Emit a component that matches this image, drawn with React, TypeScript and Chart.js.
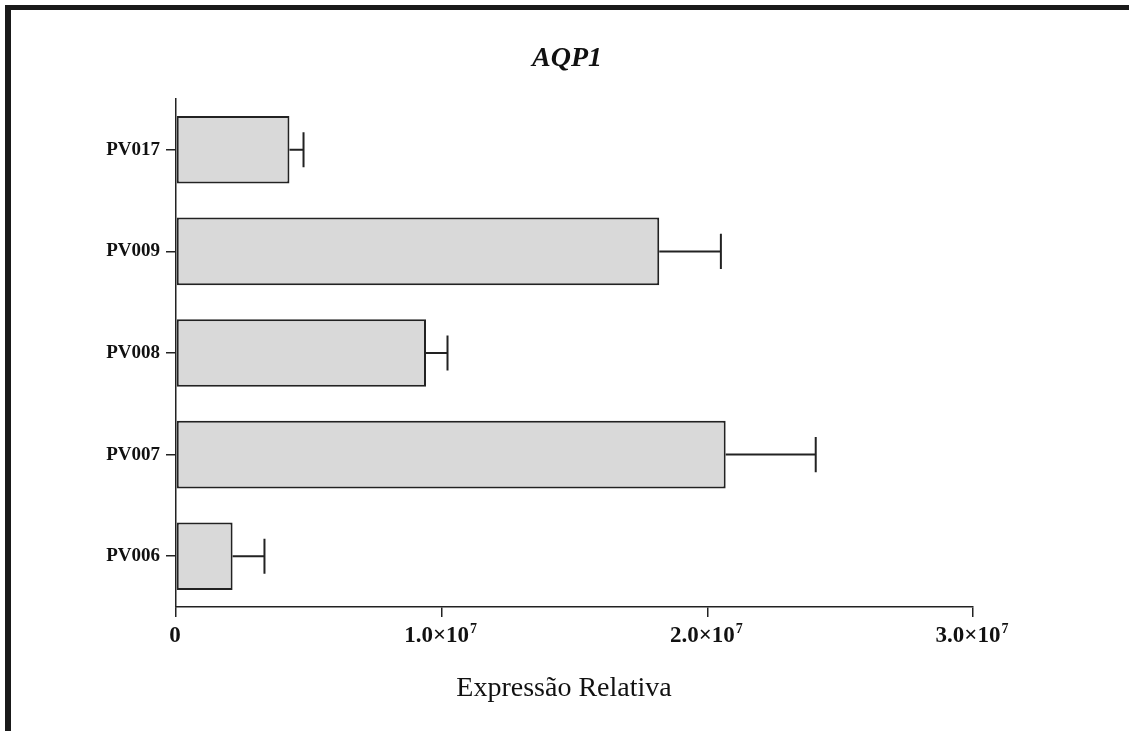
import React, { useEffect, useRef } from 'react';
import { Chart, registerables } from 'chart.js';

Chart.register(...registerables);

const categories = ['PV017', 'PV009', 'PV008', 'PV007', 'PV006'];
const means = [4.27e6, 1.819e7, 9.41e6, 2.069e7, 2.13e6];
const errors = [0.53e6, 2.32e6, 0.81e6, 3.39e6, 1.2e6];
const xTickValues = [0, 1e7, 2e7, 3e7];
const xTickBase = ['0', '1.0×10', '2.0×10', '3.0×10'];
const xTickExponent = ['', '7', '7', '7'];
const chartTitle = 'AQP1';
const xAxisTitle = 'Expressão Relativa';

const SERIF = '"Liberation Serif", "Times New Roman", serif';
const INK = '#222222';

const errorBarsPlugin = {
  id: 'errorBars',
  afterDatasetsDraw(chart: any) {
    const meta = chart.getDatasetMeta(0);
    const xs = chart.scales.x;
    const ctx = chart.ctx;
    ctx.save();
    ctx.strokeStyle = INK;
    ctx.lineWidth = 2;
    meta.data.forEach((bar: any, i: number) => {
      const y = bar.y;
      const x0 = xs.getPixelForValue(means[i]);
      const x1 = xs.getPixelForValue(means[i] + errors[i]);
      const half = bar.height * 0.26;
      ctx.beginPath();
      ctx.moveTo(x0, y);
      ctx.lineTo(x1, y);
      ctx.moveTo(x1, y - half);
      ctx.lineTo(x1, y + half);
      ctx.stroke();
    });
    ctx.restore();
  },
};

const textPlugin = {
  id: 'texts',
  afterDraw(chart: any) {
    const ctx = chart.ctx;
    const xs = chart.scales.x;
    ctx.save();
    ctx.fillStyle = '#111111';
    ctx.textBaseline = 'alphabetic';

    // x tick labels with superscript exponent
    const baseFont = `bold 23px ${SERIF}`;
    const expFont = `bold 14px ${SERIF}`;
    const baseline = xs.bottom - xs.height + 35; // axis top + offset
    xTickValues.forEach((v, i) => {
      const px = xs.getPixelForValue(v);
      ctx.font = baseFont;
      const wb = ctx.measureText(xTickBase[i]).width;
      ctx.font = expFont;
      const we = xTickExponent[i] ? ctx.measureText(xTickExponent[i]).width + 1 : 0;
      const start = px - (wb + we) / 2 - (xTickExponent[i] ? 1 : 1);
      ctx.textAlign = 'left';
      ctx.font = baseFont;
      ctx.fillText(xTickBase[i], start, baseline);
      if (xTickExponent[i]) {
        ctx.font = expFont;
        ctx.fillText(xTickExponent[i], start + wb + 1, baseline - 9.5);
      }
    });

    ctx.textAlign = 'center';
    ctx.font = `italic bold 28px ${SERIF}`;
    ctx.fillText(chartTitle, 567, 66);
    ctx.font = `28px ${SERIF}`;
    ctx.fillText(xAxisTitle, 564, 696);
    ctx.restore();
  },
};

const framePlugin = {
  id: 'frame',
  beforeDraw(chart: any) {
    const ctx = chart.ctx;
    ctx.save();
    ctx.fillStyle = '#ffffff';
    ctx.fillRect(0, 0, chart.width, chart.height);
    ctx.fillStyle = '#1a1a1a';
    ctx.fillRect(5, 5, chart.width - 5, 5);
    ctx.fillRect(5, 5, 6, chart.height - 5);
    ctx.restore();
  },
};

export default function App() {
  const ref = useRef<HTMLCanvasElement | null>(null);

  useEffect(() => {
    if (!ref.current) return;
    const chart = new Chart(ref.current, {
      type: 'bar',
      data: {
        labels: categories,
        datasets: [
          {
            data: means,
            backgroundColor: '#d9d9d9',
            borderColor: INK,
            borderWidth: 2,
            borderSkipped: false,
            categoryPercentage: 1,
            barPercentage: 0.665,
          },
        ],
      },
      options: {
        indexAxis: 'y',
        responsive: false,
        animation: false,
        devicePixelRatio: 1,
        layout: { padding: { left: 0, right: 156, top: 99, bottom: 0 } },
        plugins: {
          legend: { display: false },
          title: { display: false },
          tooltip: { enabled: false },
        },
        scales: {
          x: {
            type: 'linear',
            min: 0,
            max: 3e7,
            afterBuildTicks(scale: any) {
              scale.ticks = xTickValues.map((v) => ({ value: v }));
            },
            afterFit(scale: any) {
              scale.height = 124;
            },
            grid: {
              drawOnChartArea: false,
              drawTicks: true,
              tickLength: 10,
              color: INK,
              lineWidth: 1.5,
            },
            border: { display: true, color: INK, width: 1.5 },
            ticks: {
              display: false,
            },
          },
          y: {
            type: 'category',
            afterFit(scale: any) {
              scale.width = 176;
            },
            grid: {
              offset: false,
              drawOnChartArea: false,
              drawTicks: true,
              tickLength: 10,
              color: INK,
              lineWidth: 1.5,
            },
            border: { display: true, color: INK, width: 1.5 },
            ticks: {
              padding: 6,
              color: '#111111',
              font: { family: SERIF, size: 19, weight: 'bold' },
            },
          },
        },
      },
      plugins: [framePlugin, errorBarsPlugin, textPlugin],
    } as any);
    return () => chart.destroy();
  }, []);

  return (
    <div style={{ position: 'fixed', left: 0, top: 0, width: 1129, height: 731, background: '#fff' }}>
      <canvas ref={ref} width={1129} height={731} style={{ display: 'block', width: 1129, height: 731 }} />
    </div>
  );
}
